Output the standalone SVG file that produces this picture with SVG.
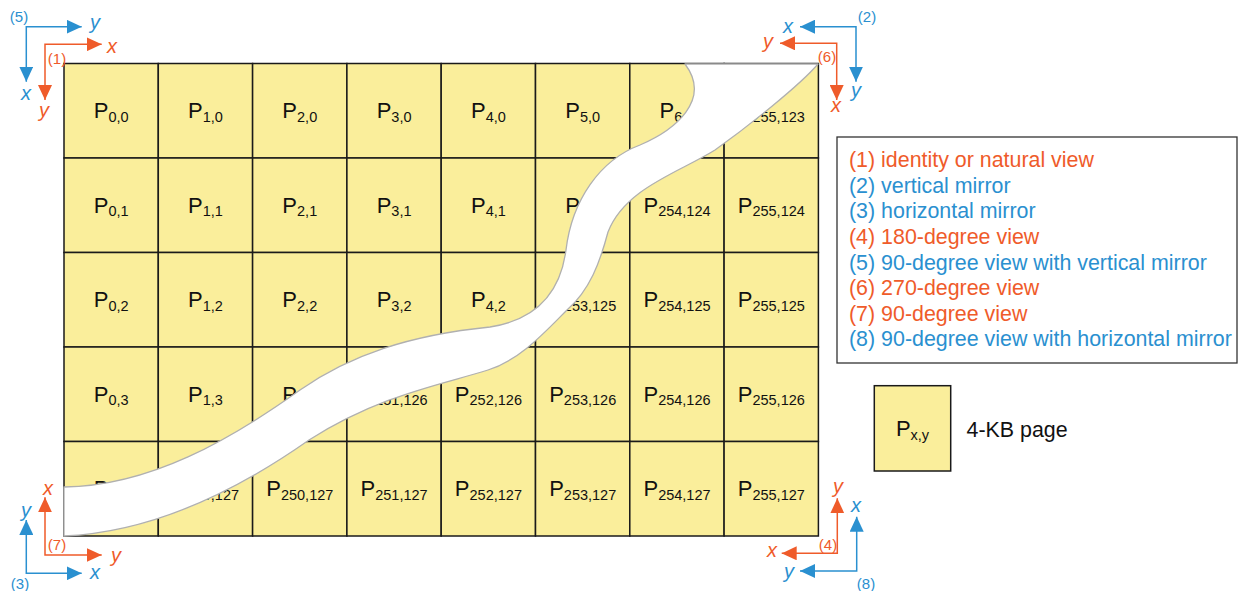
<svg xmlns="http://www.w3.org/2000/svg" width="1239" height="591" viewBox="0 0 1239 591">
<style>
.cell{fill:#FAEE9B;stroke:#1a1a1a;stroke-width:1.5}
.p{font-family:"Liberation Sans",Arial,sans-serif;font-size:22px;fill:#111;text-anchor:middle}
.s{font-size:14.5px}
.band{fill:#fff;stroke:#b0b0b0;stroke-width:1.3;stroke-linejoin:round}
.ao{fill:none;stroke:#EF5B2A;stroke-width:1.5;marker-start:url(#mo);marker-end:url(#mo)}
.ab{fill:none;stroke:#2A90D0;stroke-width:1.5;marker-start:url(#mb);marker-end:url(#mb)}
.lo{font-family:"Liberation Sans",Arial,sans-serif;font-size:20px;font-style:italic;fill:#EF5B2A;text-anchor:middle}
.lb{font-family:"Liberation Sans",Arial,sans-serif;font-size:20px;font-style:italic;fill:#2A90D0;text-anchor:middle}
.no{font-family:"Liberation Sans",Arial,sans-serif;font-size:15px;fill:#EF5B2A;text-anchor:middle}
.nb{font-family:"Liberation Sans",Arial,sans-serif;font-size:15px;fill:#2A90D0;text-anchor:middle}
.leg{font-family:"Liberation Sans",Arial,sans-serif;font-size:21.4px}
.or{fill:#EF5B2A}
.bl{fill:#2A90D0}
.txt{font-family:"Liberation Sans",Arial,sans-serif;font-size:21.4px;fill:#111}
</style>
<defs>
<marker id="mo" markerUnits="userSpaceOnUse" markerWidth="15" markerHeight="14" refX="15" refY="7" orient="auto-start-reverse"><path d="M0,0 L15,7 L0,14 Z" fill="#EF5B2A"/></marker>
<marker id="mb" markerUnits="userSpaceOnUse" markerWidth="15" markerHeight="14" refX="15" refY="7" orient="auto-start-reverse"><path d="M0,0 L15,7 L0,14 Z" fill="#2A90D0"/></marker>
</defs>
<rect width="1239" height="591" fill="#fff"/>

<g id="grid">
<g id="r0">
<g id="c0-0"><rect class="cell" x="64" y="63.5" width="94.3" height="94.5"/><text class="p" x="111.2" y="118">P<tspan class="s" dy="3.5">0,0</tspan></text></g>
<g id="c1-0"><rect class="cell" x="158.3" y="63.5" width="94.3" height="94.5"/><text class="p" x="205.5" y="118">P<tspan class="s" dy="3.5">1,0</tspan></text></g>
<g id="c2-0"><rect class="cell" x="252.6" y="63.5" width="94.3" height="94.5"/><text class="p" x="299.8" y="118">P<tspan class="s" dy="3.5">2,0</tspan></text></g>
<g id="c3-0"><rect class="cell" x="346.9" y="63.5" width="94.3" height="94.5"/><text class="p" x="394.1" y="118">P<tspan class="s" dy="3.5">3,0</tspan></text></g>
<g id="c4-0"><rect class="cell" x="441.2" y="63.5" width="94.3" height="94.5"/><text class="p" x="488.4" y="118">P<tspan class="s" dy="3.5">4,0</tspan></text></g>
<g id="c5-0"><rect class="cell" x="535.5" y="63.5" width="94.3" height="94.5"/><text class="p" x="582.7" y="118">P<tspan class="s" dy="3.5">5,0</tspan></text></g>
<g id="c6-0"><rect class="cell" x="629.8" y="63.5" width="94.3" height="94.5"/><text class="p" x="677" y="118">P<tspan class="s" dy="3.5">6,0</tspan></text></g>
<g id="c7-0"><rect class="cell" x="724.1" y="63.5" width="94.3" height="94.5"/><text class="p" x="771.3" y="118">P<tspan class="s" dy="3.5">255,123</tspan></text></g>
</g>
<g id="r1">
<g id="c0-1"><rect class="cell" x="64" y="158" width="94.3" height="94.5"/><text class="p" x="111.2" y="212.5">P<tspan class="s" dy="3.5">0,1</tspan></text></g>
<g id="c1-1"><rect class="cell" x="158.3" y="158" width="94.3" height="94.5"/><text class="p" x="205.5" y="212.5">P<tspan class="s" dy="3.5">1,1</tspan></text></g>
<g id="c2-1"><rect class="cell" x="252.6" y="158" width="94.3" height="94.5"/><text class="p" x="299.8" y="212.5">P<tspan class="s" dy="3.5">2,1</tspan></text></g>
<g id="c3-1"><rect class="cell" x="346.9" y="158" width="94.3" height="94.5"/><text class="p" x="394.1" y="212.5">P<tspan class="s" dy="3.5">3,1</tspan></text></g>
<g id="c4-1"><rect class="cell" x="441.2" y="158" width="94.3" height="94.5"/><text class="p" x="488.4" y="212.5">P<tspan class="s" dy="3.5">4,1</tspan></text></g>
<g id="c5-1"><rect class="cell" x="535.5" y="158" width="94.3" height="94.5"/><text class="p" x="582.7" y="212.5">P<tspan class="s" dy="3.5">5,1</tspan></text></g>
<g id="c6-1"><rect class="cell" x="629.8" y="158" width="94.3" height="94.5"/><text class="p" x="677" y="212.5">P<tspan class="s" dy="3.5">254,124</tspan></text></g>
<g id="c7-1"><rect class="cell" x="724.1" y="158" width="94.3" height="94.5"/><text class="p" x="771.3" y="212.5">P<tspan class="s" dy="3.5">255,124</tspan></text></g>
</g>
<g id="r2">
<g id="c0-2"><rect class="cell" x="64" y="252.5" width="94.3" height="94.5"/><text class="p" x="111.2" y="307">P<tspan class="s" dy="3.5">0,2</tspan></text></g>
<g id="c1-2"><rect class="cell" x="158.3" y="252.5" width="94.3" height="94.5"/><text class="p" x="205.5" y="307">P<tspan class="s" dy="3.5">1,2</tspan></text></g>
<g id="c2-2"><rect class="cell" x="252.6" y="252.5" width="94.3" height="94.5"/><text class="p" x="299.8" y="307">P<tspan class="s" dy="3.5">2,2</tspan></text></g>
<g id="c3-2"><rect class="cell" x="346.9" y="252.5" width="94.3" height="94.5"/><text class="p" x="394.1" y="307">P<tspan class="s" dy="3.5">3,2</tspan></text></g>
<g id="c4-2"><rect class="cell" x="441.2" y="252.5" width="94.3" height="94.5"/><text class="p" x="488.4" y="307">P<tspan class="s" dy="3.5">4,2</tspan></text></g>
<g id="c5-2"><rect class="cell" x="535.5" y="252.5" width="94.3" height="94.5"/><text class="p" x="582.7" y="307">P<tspan class="s" dy="3.5">253,125</tspan></text></g>
<g id="c6-2"><rect class="cell" x="629.8" y="252.5" width="94.3" height="94.5"/><text class="p" x="677" y="307">P<tspan class="s" dy="3.5">254,125</tspan></text></g>
<g id="c7-2"><rect class="cell" x="724.1" y="252.5" width="94.3" height="94.5"/><text class="p" x="771.3" y="307">P<tspan class="s" dy="3.5">255,125</tspan></text></g>
</g>
<g id="r3">
<g id="c0-3"><rect class="cell" x="64" y="347" width="94.3" height="94.5"/><text class="p" x="111.2" y="401.5">P<tspan class="s" dy="3.5">0,3</tspan></text></g>
<g id="c1-3"><rect class="cell" x="158.3" y="347" width="94.3" height="94.5"/><text class="p" x="205.5" y="401.5">P<tspan class="s" dy="3.5">1,3</tspan></text></g>
<g id="c2-3"><rect class="cell" x="252.6" y="347" width="94.3" height="94.5"/><text class="p" x="299.8" y="401.5">P<tspan class="s" dy="3.5">2,3</tspan></text></g>
<g id="c3-3"><rect class="cell" x="346.9" y="347" width="94.3" height="94.5"/><text class="p" x="394.1" y="401.5">P<tspan class="s" dy="3.5">251,126</tspan></text></g>
<g id="c4-3"><rect class="cell" x="441.2" y="347" width="94.3" height="94.5"/><text class="p" x="488.4" y="401.5">P<tspan class="s" dy="3.5">252,126</tspan></text></g>
<g id="c5-3"><rect class="cell" x="535.5" y="347" width="94.3" height="94.5"/><text class="p" x="582.7" y="401.5">P<tspan class="s" dy="3.5">253,126</tspan></text></g>
<g id="c6-3"><rect class="cell" x="629.8" y="347" width="94.3" height="94.5"/><text class="p" x="677" y="401.5">P<tspan class="s" dy="3.5">254,126</tspan></text></g>
<g id="c7-3"><rect class="cell" x="724.1" y="347" width="94.3" height="94.5"/><text class="p" x="771.3" y="401.5">P<tspan class="s" dy="3.5">255,126</tspan></text></g>
</g>
<g id="r4">
<g id="c0-4"><rect class="cell" x="64" y="441.5" width="94.3" height="94.5"/><text class="p" x="111.2" y="496">P<tspan class="s" dy="3.5">0,4</tspan></text></g>
<g id="c1-4"><rect class="cell" x="158.3" y="441.5" width="94.3" height="94.5"/><text class="p" x="205.5" y="496">P<tspan class="s" dy="3.5">249,127</tspan></text></g>
<g id="c2-4"><rect class="cell" x="252.6" y="441.5" width="94.3" height="94.5"/><text class="p" x="299.8" y="496">P<tspan class="s" dy="3.5">250,127</tspan></text></g>
<g id="c3-4"><rect class="cell" x="346.9" y="441.5" width="94.3" height="94.5"/><text class="p" x="394.1" y="496">P<tspan class="s" dy="3.5">251,127</tspan></text></g>
<g id="c4-4"><rect class="cell" x="441.2" y="441.5" width="94.3" height="94.5"/><text class="p" x="488.4" y="496">P<tspan class="s" dy="3.5">252,127</tspan></text></g>
<g id="c5-4"><rect class="cell" x="535.5" y="441.5" width="94.3" height="94.5"/><text class="p" x="582.7" y="496">P<tspan class="s" dy="3.5">253,127</tspan></text></g>
<g id="c6-4"><rect class="cell" x="629.8" y="441.5" width="94.3" height="94.5"/><text class="p" x="677" y="496">P<tspan class="s" dy="3.5">254,127</tspan></text></g>
<g id="c7-4"><rect class="cell" x="724.1" y="441.5" width="94.3" height="94.5"/><text class="p" x="771.3" y="496">P<tspan class="s" dy="3.5">255,127</tspan></text></g>
</g>
</g>

<g id="band">
<path class="band" d="M64,487 C150,486 230,440 300,390 C350,355 410,335 490,327 C535,320 560,295 566,250 C572,200 600,160 640,145 C675,130 712,100 685,64 L818,64 C800,85 750,125 715,150 C680,172 625,188 608,232 C600,262 590,290 567,310 C545,332 520,360 488,370 C440,385 380,395 309,440 C245,485 160,532 64,536 Z"/>
</g>

<g id="axes">
<g id="ax5"><polyline class="ab" points="81.7,26.7 26.3,26.7 26.3,81.7"/><text class="lb" x="95" y="29">y</text><text class="lb" x="26" y="100">x</text><text class="nb" x="19" y="22">(5)</text></g>
<g id="ax1"><polyline class="ao" points="101.7,44.3 45,44.3 45,100"/><text class="lo" x="112" y="53">x</text><text class="lo" x="44" y="117">y</text><text class="no" x="57" y="64">(1)</text></g>
<g id="ax2"><polyline class="ab" points="800,26.7 856,26.7 856,81.7"/><text class="lb" x="788" y="33">x</text><text class="lb" x="856" y="97">y</text><text class="nb" x="867" y="22">(2)</text></g>
<g id="ax6"><polyline class="ao" points="780,43.3 836.7,43.3 836.7,100"/><text class="lo" x="768" y="48">y</text><text class="lo" x="836" y="112">x</text><text class="no" x="827" y="62">(6)</text></g>
<g id="ax7"><polyline class="ao" points="45,497.3 45,555 101.7,555"/><text class="lo" x="48" y="495">x</text><text class="lo" x="116" y="562">y</text><text class="no" x="57" y="550">(7)</text></g>
<g id="ax3"><polyline class="ab" points="26.3,520 26.3,573.3 81.7,573.3"/><text class="lb" x="26" y="517">y</text><text class="lb" x="95" y="579">x</text><text class="nb" x="20" y="589">(3)</text></g>
<g id="ax4"><polyline class="ao" points="837.3,498.3 837.3,553.3 781.7,553.3"/><text class="lo" x="838" y="493">y</text><text class="lo" x="772" y="557">x</text><text class="no" x="828" y="550">(4)</text></g>
<g id="ax8"><polyline class="ab" points="856.7,516.7 856.7,571 800,571"/><text class="lb" x="856" y="512">x</text><text class="lb" x="789" y="578">y</text><text class="nb" x="866" y="589">(8)</text></g>
</g>

<g id="legend">
<rect x="837" y="137" width="400" height="226" fill="#fff" stroke="#333" stroke-width="1.3"/>
<text class="leg or" x="849" y="167">(1) identity or natural view</text>
<text class="leg bl" x="849" y="192.5">(2) vertical mirror</text>
<text class="leg bl" x="849" y="218">(3) horizontal mirror</text>
<text class="leg or" x="849" y="244">(4) 180-degree view</text>
<text class="leg bl" x="849" y="269.5">(5) 90-degree view with vertical mirror</text>
<text class="leg or" x="849" y="295">(6) 270-degree view</text>
<text class="leg or" x="849" y="320.5">(7) 90-degree view</text>
<text class="leg bl" x="849" y="346">(8) 90-degree view with horizontal mirror</text>
</g>

<g id="key">
<rect class="cell" x="874.3" y="385.7" width="76.4" height="85.3"/>
<text class="p" x="912.5" y="436">P<tspan class="s" dy="3.5">x,y</tspan></text>
<text class="txt" x="966.5" y="437">4-KB page</text>
</g>
</svg>
